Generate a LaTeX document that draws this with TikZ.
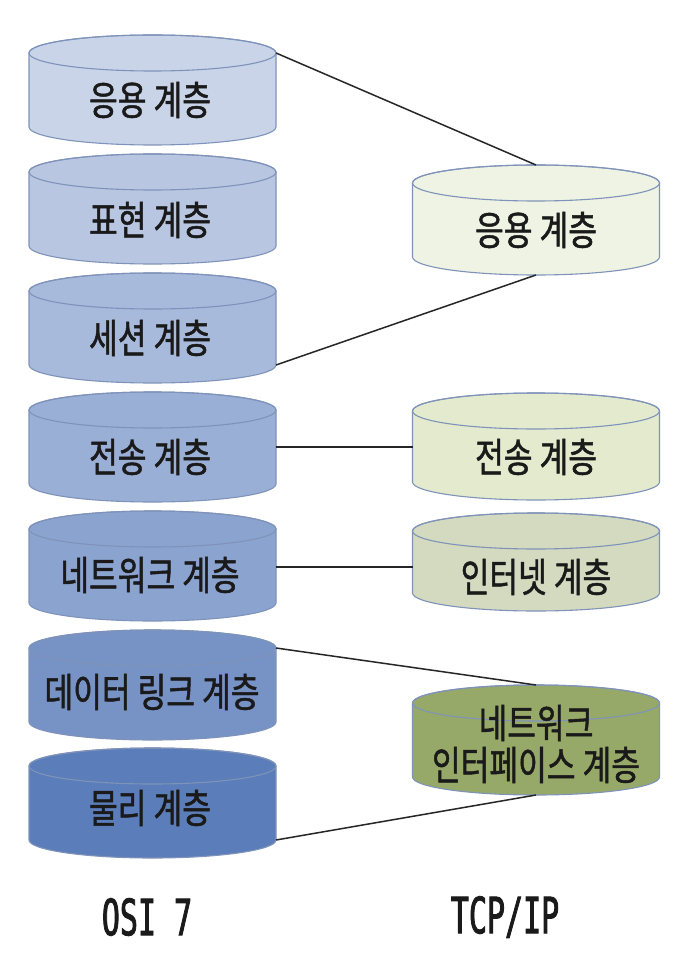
\documentclass[tikz,border=0pt]{standalone}
\usepackage{fontspec}
\newfontfamily\kr[FakeStretch=0.78, FakeBold=1.2]{Noto Sans CJK KR}
\newfontfamily\monof[FakeStretch=0.6, FakeBold=1.6]{DejaVu Sans Mono}
\definecolor{cA}{HTML}{C9D4E9}
\definecolor{cB}{HTML}{B8C6E2}
\definecolor{cC}{HTML}{A8BADC}
\definecolor{cD}{HTML}{9AAFD6}
\definecolor{cE}{HTML}{8BA3CF}
\definecolor{cF}{HTML}{7793C6}
\definecolor{cG}{HTML}{5B7DB9}
\definecolor{gA}{HTML}{EFF3E3}
\definecolor{gB}{HTML}{E3EACD}
\definecolor{gC}{HTML}{D3DABF}
\definecolor{gD}{HTML}{97A968}
\definecolor{edge}{HTML}{7F93BA}
\definecolor{ink}{HTML}{1A1A1A}
\tikzset{
  cylline/.style={draw=edge, line width=1.1pt},
  lbl/.style={text=ink, font=\kr\fontsize{40}{43}\selectfont, inner sep=0pt, align=center},
  caption/.style={text=ink, font=\monof\fontsize{50}{56}\selectfont, inner sep=0pt},
  link/.style={draw=black!85, line width=1.5pt},
}
% name, cx, yt, yb, fill
\newcommand\cyl[5]{%
  \draw[cylline, fill=#5] (#2-123.5,#3) -- (#2-123.5,#4)
     arc[start angle=180, end angle=0, x radius=123.5, y radius=18]
     -- (#2+123.5,#3)
     arc[start angle=0, end angle=-180, x radius=123.5, y radius=18] -- cycle;
  \draw[cylline] (#2,#3) ellipse[x radius=123.5, y radius=18];
  \coordinate (#1-tr) at (#2+123.5,#3);
  \coordinate (#1-tl) at (#2-123.5,#3);
  \coordinate (#1-br) at (#2+123.5,#4);
  \coordinate (#1-top) at (#2,#3-18);
  \coordinate (#1-bot) at (#2,#4+18);
}
\begin{document}
\begin{tikzpicture}[x=1pt, y=-1pt]
\useasboundingbox (0,0) rectangle (692,976);
\fill[white] (0,0) rectangle (692,976);
% OSI 7 layers
\cyl{L1}{152.5}{53}{127}{cA}
\cyl{L2}{152.5}{172}{246}{cB}
\cyl{L3}{152.5}{291}{365}{cC}
\cyl{L4}{152.5}{410}{484}{cD}
\cyl{L5}{152.5}{529}{603}{cE}
\cyl{L6}{152.5}{648}{722}{cF}
\cyl{L7}{152.5}{766}{840}{cG}
% TCP/IP layers
\cyl{R1}{536}{183}{257}{gA}
\cyl{R2}{536}{411}{482}{gB}
\cyl{R3}{536}{531}{593}{gC}
\cyl{R4}{536}{703}{777}{gD}
% labels
\node[lbl] (t1) at (150,100) {응용 계층};
\node[lbl] (t2) at (150,220) {표현 계층};
\node[lbl] (t3) at (150,338) {세션 계층};
\node[lbl] (t4) at (150,457) {전송 계층};
\node[lbl] (t5) at (150,575) {네트워크 계층};
\node[lbl] (t6) at (152,692) {데이터 링크 계층};
\node[lbl] (t7) at (150,808) {물리 계층};
\node[lbl] (u1) at (536,230) {응용 계층};
\node[lbl] (u2) at (536,457) {전송 계층};
\node[lbl] (u3) at (536,577) {인터넷 계층};
\node[lbl] (u4) at (536,744) {네트워크\\[-1pt]인터페이스 계층};
\node[caption] (osi) at (147,917) {OSI 7};
\node[caption] (tcp) at (505,917) {TCP/IP};
% connectors
\coordinate (L4-m) at (276,447);
\coordinate (R2-m) at (412.5,447);
\coordinate (L5-m) at (276,567);
\coordinate (R3-m) at (412.5,567);
\draw[link] (L1-tr) -- (R1-top);
\draw[link] (L3-br) -- (R1-bot);
\draw[link] (L4-m) -- (R2-m);
\draw[link] (L5-m) -- (R3-m);
\draw[link] (L6-tr) -- (R4-top);
\draw[link] (L7-br) -- (R4-bot);
\end{tikzpicture}
\end{document}
